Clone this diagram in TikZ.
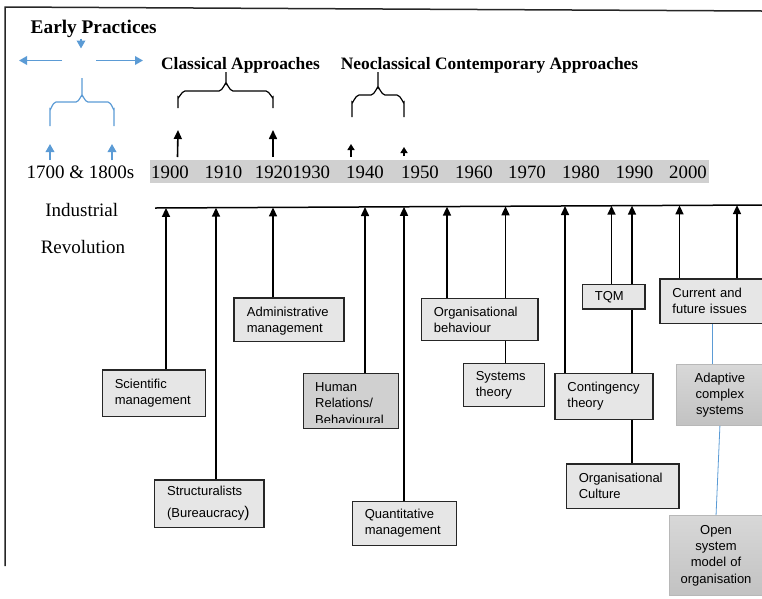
\documentclass[tikz,border=0pt]{standalone}
\usepackage{fontspec}
\setmainfont{Liberation Serif}
\setsansfont{Liberation Sans}
\usetikzlibrary{arrows.meta}
\definecolor{boxfill}{HTML}{E6E6E6}
\definecolor{humfill}{HTML}{D0D0D0}
\definecolor{bandgray}{HTML}{D0D0D0}
\definecolor{bluec}{HTML}{5B9BD5}
\definecolor{shtop}{HTML}{D8D8D8}
\definecolor{shbot}{HTML}{C2C2C2}
\definecolor{shborder}{HTML}{B8B8B8}
\begin{document}
\begin{tikzpicture}[x=1pt,y=-1pt,
 box/.style={draw=black!85, line width=1.2pt, fill=boxfill, anchor=north west, inner xsep=12.5pt, inner ysep=0pt, align=left, font=\fontsize{13}{16}\selectfont\sffamily},
 sbox/.style={draw=shborder, line width=0.8pt, top color=shtop, bottom color=shbot, anchor=north west, inner xsep=4pt, inner ysep=0pt, align=center, font=\fontsize{13}{16.3}\selectfont\sffamily},
 boxtxt/.style={anchor=base west, inner sep=0pt, font=\fontsize{13}{16}\selectfont\sffamily},
 arr/.style={line width=1.6pt, -{Triangle[length=9pt,width=8pt]}},
 sarr/.style={line width=1.6pt, -{Triangle[length=6pt,width=7pt]}},
 link/.style={line width=1.6pt},
 barr/.style={draw=bluec, line width=1.8pt, -{Triangle[length=8pt,width=8.5pt]}},
 blink/.style={draw=bluec, line width=0.8pt},
 brc/.style={line width=1.2pt},
 head/.style={font=\fontsize{17.4}{20}\selectfont\bfseries, anchor=base, inner sep=0pt},
 yr/.style={font=\fontsize{18.8}{20}\selectfont, anchor=base, inner sep=0pt},
 lbl/.style={font=\fontsize{19}{20}\selectfont, anchor=base, inner sep=0pt},
]
\useasboundingbox (0,0) rectangle (762,598);

% frame
\draw[line width=1.5pt, black!85] (5,566) -- (5,7) -- (762,11);

% headings
\node[head, font=\fontsize{19.3}{22}\selectfont\bfseries] (early) at (93.7,33.3) {Early Practices};
\node[head] (classical) at (240.5,69) {Classical Approaches};
\node[head] (neo) at (489.5,69) {Neoclassical Contemporary Approaches};

% blue arrows and brace
\coordinate (bd0) at (81,38.5); \coordinate (bd1) at (81,48.5);
\draw[barr] (bd0) -- (bd1);
\coordinate (bl0) at (62,60.5); \coordinate (bl1) at (19,60.5);
\draw[barr] (bl0) -- (bl1);
\coordinate (br0) at (96,60.5); \coordinate (br1) at (143,60.5);
\draw[barr] (br0) -- (br1);
\draw[bluec, brc] (50,126) -- (50,109) to[out=-90,in=180] (56,102) -- (76,102) to[out=0,in=90] (82,96) -- (82,78);
\draw[bluec, brc] (114,126) -- (114,109) to[out=-90,in=0] (108,102) -- (88,102) to[out=180,in=90] (82,96);
\coordinate (bu1a) at (50,160); \coordinate (bu1b) at (50,144);
\draw[barr] (bu1a) -- (bu1b);
\coordinate (bu2a) at (112,160); \coordinate (bu2b) at (112,144);
\draw[barr] (bu2a) -- (bu2b);

% black braces
\draw[brc] (178,108) -- (178,97) to[out=-90,in=180] (185,91) -- (219,91) to[out=0,in=90] (226,84) -- (226,72);
\draw[brc] (273,108) -- (273,97) to[out=-90,in=0] (266,91) -- (233,91) to[out=180,in=90] (226,84);
\draw[brc] (352,117) -- (352,102) to[out=-90,in=180] (359,95) -- (371,95) to[out=0,in=90] (378,88) -- (378,72);
\draw[brc] (404,117) -- (404,102) to[out=-90,in=0] (397,95) -- (385,95) to[out=180,in=90] (378,88);

% arrows above band
\coordinate (u1a) at (177.5,157); \coordinate (u1b) at (178,130);
\draw[arr] (u1a) -- (u1b);
\coordinate (u2a) at (273,157); \coordinate (u2b) at (273,130);
\draw[arr] (u2a) -- (u2b);
\coordinate (u3a) at (351,157); \coordinate (u3b) at (351,144);
\draw[sarr] (u3a) -- (u3b);
\coordinate (u4a) at (404,156); \coordinate (u4b) at (404,147);
\draw[sarr] (u4a) -- (u4b);

% band and years
\fill[bandgray] (150,160) rectangle (709,182.7);
\node[lbl] (early-yr) at (80.5,178.3) {1700 \& 1800s};
\node[yr] (y1900) at (170,178.3) {1900};
\node[yr] (y1910) at (223.5,178.3) {1910};
\node[yr] (y1920) at (292.5,178.3) {19201930};
\node[yr] (y1940) at (365,178.3) {1940};
\node[yr] (y1950) at (420,178.3) {1950};
\node[yr] (y1960) at (474,178.3) {1960};
\node[yr] (y1970) at (527,178.3) {1970};
\node[yr] (y1980) at (581,178.3) {1980};
\node[yr] (y1990) at (634.5,178.3) {1990};
\node[yr] (y2000) at (688,178.3) {2000};
\node[lbl] (ind) at (81.7,216) {Industrial};
\node[lbl] (rev) at (83,253.3) {Revolution};

% timeline
\coordinate (tlL) at (155,208); \coordinate (tlR) at (762,205);
\draw[line width=1.5pt] (tlL) -- (tlR);
\coordinate (a1) at (166,207.9);
\coordinate (a2) at (216,207.7);
\coordinate (a3) at (273,207.4);
\coordinate (a4) at (365,207.0);
\coordinate (a5) at (404,206.8);
\coordinate (a6) at (447,206.6);
\coordinate (a7) at (505.5,206.3);
\coordinate (a8) at (565,206.0);
\coordinate (a9) at (611.5,205.7);
\coordinate (a10) at (632,205.6);
\coordinate (a11) at (679.5,205.4);
\coordinate (a12) at (737,205.1);

% boxes
\node[box, minimum width=103.3pt, minimum height=46.7pt, text width=78.3pt] (sci) at (101.7,369.3) {Scientific\\management};
\node[box, minimum width=110pt, minimum height=43.4pt] (adm) at (233.3,297.3) {};
\begin{scope}
\clip (adm.north west) rectangle ([yshift=6pt]adm.south east);
\node[boxtxt] (admt1) at ([shift={(13.4pt,-19pt)}]adm.north west) {Administrative};
\node[boxtxt] (admt2) at ([shift={(13.4pt,-35.5pt)}]adm.north west) {management};
\end{scope}
\node[box, fill=humfill, minimum width=95pt, minimum height=55pt] (hum) at (302.7,372.7) {};
\begin{scope}
\clip (hum.north west) rectangle ([yshift=6pt]hum.south east);
\node[boxtxt] (humt1) at ([shift={(12.3pt,-19pt)}]hum.north west) {Human};
\node[boxtxt] (humt2) at ([shift={(12.3pt,-35pt)}]hum.north west) {Relations/};
\node[boxtxt] (humt3) at ([shift={(12.3pt,-51.3pt)}]hum.north west) {Behavioural};
\end{scope}
\node[box, minimum width=109.3pt, minimum height=47.4pt, text width=84.3pt, font=\fontsize{13}{21.7}\selectfont\sffamily] (str) at (154,479.3) {Structuralists\\(Bureaucracy{\fontsize{15.5}{16}\selectfont)}};
\node[box, minimum width=104pt, minimum height=44pt, text width=79pt] (qua) at (351.7,501) {Quantitative\\management};
\node[box, minimum width=116.6pt, minimum height=42.3pt, text width=91.6pt] (orgb) at (420.7,297.7) {Organisational\\behaviour};
\node[box, minimum width=81.3pt, minimum height=43pt, text width=56.3pt] (sys) at (462.7,362.7) {Systems\\theory};
\node[box, minimum width=98pt, minimum height=46.3pt, text width=73pt] (cont) at (554.3,372.7) {Contingency\\theory};
\node[box, minimum width=62.6pt, minimum height=24.3pt, text width=37.6pt] (tqm) at (581.7,284) {TQM};
\node[box, minimum width=104pt, minimum height=44.4pt, text width=79pt] (cur) at (659.3,278.3) {Current and\\future issues};
\node[sbox, minimum width=87pt, minimum height=60.7pt, text width=79pt] (adap) at (676,364.3) {Adaptive\\complex\\systems};
\node[box, minimum width=112.6pt, minimum height=44.4pt, text width=87.6pt] (cul) at (565.7,463.3) {Organisational\\Culture};
\node[sbox, minimum width=92.7pt, minimum height=80pt, text width=84.7pt] (open) at (669.3,515) {Open\\system\\model of\\organisation};

% connectors to the timeline
\draw[arr] (a1 |- sci.north) -- (a1);
\draw[arr] (a2 |- str.north) -- (a2);
\draw[arr] (a3 |- adm.north) -- (a3);
\draw[arr] (a4 |- hum.north) -- (a4);
\draw[arr] (a5 |- qua.north) -- (a5);
\draw[arr] (a6 |- orgb.north) -- (a6);
\draw[link] (a7 |- sys.north) -- (a7 |- orgb.south);
\draw[arr] (a7 |- orgb.north) -- (a7);
\draw[arr] (a8 |- cont.north) -- (a8);
\draw[arr] (a9 |- tqm.north) -- (a9);
\draw[link] (a10 |- cul.north) -- (a10 |- cont.south);
\draw[link] (a10 |- cont.north) -- (a10 |- tqm.south);
\draw[arr] (a10 |- tqm.north) -- (a10);
\draw[arr] (a11 |- cur.north) -- (a11);
\draw[arr] (a12 |- cur.north) -- (a12);

% blue links
\draw[blink] (cur.south) -- (cur.south |- adap.north);
\draw[blink] (adap.south) -- (open.north);
\end{tikzpicture}
\end{document}
